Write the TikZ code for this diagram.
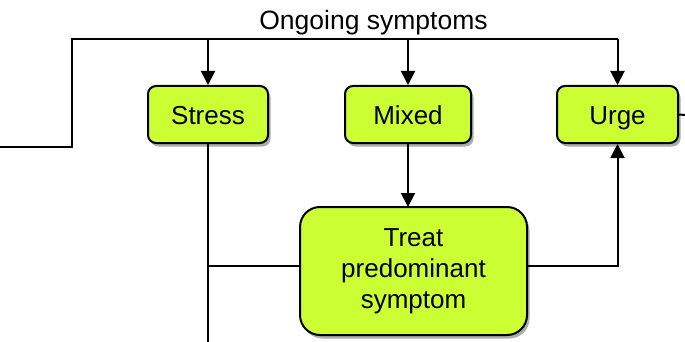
\documentclass[tikz,border=0pt]{standalone}
\usepackage{fontspec}
\setmainfont{Liberation Sans}
\usetikzlibrary{arrows.meta,shadows}
\definecolor{boxfill}{RGB}{204,255,51}
\begin{document}
\begin{tikzpicture}[x=1pt,y=-1pt,
  line width=2pt,
  box/.style={draw=black, line width=2pt, fill=boxfill, rounded corners=8pt,
    drop shadow={shadow xshift=2.5pt, shadow yshift=-3.5pt, fill=gray!65, opacity=1},
    font=\fontsize{26}{31}\selectfont, inner sep=0pt},
  small/.style={box, minimum height=57pt, text height=20pt, text depth=0pt},
  arr/.style={-{Triangle[width=14pt,length=14pt]}},
  lbl/.style={font=\fontsize{26.5}{31}\selectfont, inner sep=0pt}]
\useasboundingbox (0,0) rectangle (685,342);
% boxes
\node[small, minimum width=120pt] (stress) at (208,114.5) {Stress};
\node[small, minimum width=126pt] (mixed) at (408,114.5) {Mixed};
\node[small, minimum width=121pt] (urge) at (617.5,114.5) {Urge};
\node[box, rounded corners=20pt, minimum width=227pt, minimum height=128pt, align=center] (treat) at (413.5,271) {Treat\\predominant\\symptom};
\node[lbl, anchor=base] (ongoing) at (373.5,30) {Ongoing symptoms};
% coordinates
\coordinate (lstart) at (0,147);
\coordinate (lcorner) at (72,147);
\coordinate (ltop) at (72,39);
\coordinate (rtop) at (617.5,39);
\coordinate (sbot) at (208,342);
\coordinate (rend) at (685,115);
% connectors
\draw (lstart) -- (lcorner) -- (ltop) -- (rtop);
\draw[arr] (stress.north |- ltop) -- (stress.north);
\draw[arr] (mixed.north |- ltop) -- (mixed.north);
\draw[arr] (rtop) -- (urge.north);
\draw[arr] (408,143) -- (408,207);
\draw (stress.south) -- (sbot);
\draw (208,266) -- (treat.west |- 0,266);
\draw[arr] (treat.east |- 0,266) -- (617.5,266) -- (urge.south);
\draw (urge.east) -- (rend);
\end{tikzpicture}
\end{document}
